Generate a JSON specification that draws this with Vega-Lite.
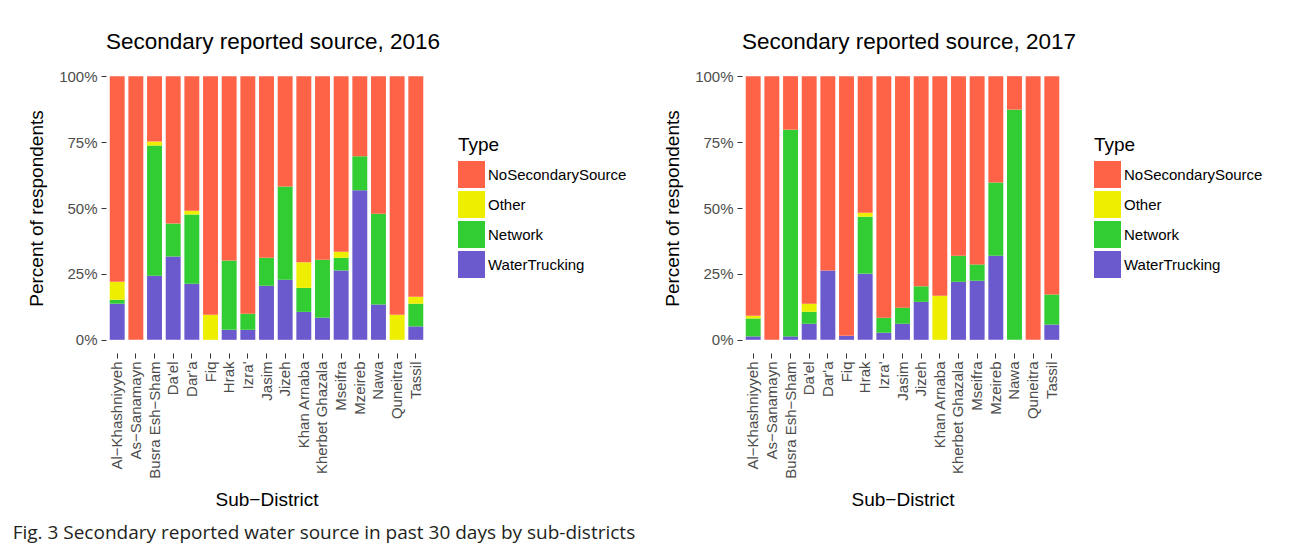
{
  "$schema": "https://vega.github.io/schema/vega-lite/v6.json",
  "padding": {"left": 12, "top": 30, "right": 0, "bottom": 0},
  "background": "white",
  "datasets": {
    "typeOrder": [
      {"Type": "WaterTrucking", "stackRank": 1},
      {"Type": "Network", "stackRank": 2},
      {"Type": "Other", "stackRank": 3},
      {"Type": "NoSecondarySource", "stackRank": 4}
    ],
    "survey": [
      {"year": 2016, "District": "Al−Khashniyyeh", "Type": "WaterTrucking", "Percent": 0.137},
      {"year": 2016, "District": "Al−Khashniyyeh", "Type": "Network", "Percent": 0.015},
      {"year": 2016, "District": "Al−Khashniyyeh", "Type": "Other", "Percent": 0.068},
      {"year": 2016, "District": "Al−Khashniyyeh", "Type": "NoSecondarySource", "Percent": 0.780},
      {"year": 2016, "District": "As−Sanamayn", "Type": "NoSecondarySource", "Percent": 1.0},
      {"year": 2016, "District": "Busra Esh−Sham", "Type": "WaterTrucking", "Percent": 0.243},
      {"year": 2016, "District": "Busra Esh−Sham", "Type": "Network", "Percent": 0.494},
      {"year": 2016, "District": "Busra Esh−Sham", "Type": "Other", "Percent": 0.015},
      {"year": 2016, "District": "Busra Esh−Sham", "Type": "NoSecondarySource", "Percent": 0.248},
      {"year": 2016, "District": "Da'el", "Type": "WaterTrucking", "Percent": 0.316},
      {"year": 2016, "District": "Da'el", "Type": "Network", "Percent": 0.125},
      {"year": 2016, "District": "Da'el", "Type": "NoSecondarySource", "Percent": 0.559},
      {"year": 2016, "District": "Dar'a", "Type": "WaterTrucking", "Percent": 0.213},
      {"year": 2016, "District": "Dar'a", "Type": "Network", "Percent": 0.262},
      {"year": 2016, "District": "Dar'a", "Type": "Other", "Percent": 0.015},
      {"year": 2016, "District": "Dar'a", "Type": "NoSecondarySource", "Percent": 0.510},
      {"year": 2016, "District": "Fiq", "Type": "Other", "Percent": 0.095},
      {"year": 2016, "District": "Fiq", "Type": "NoSecondarySource", "Percent": 0.905},
      {"year": 2016, "District": "Hrak", "Type": "WaterTrucking", "Percent": 0.038},
      {"year": 2016, "District": "Hrak", "Type": "Network", "Percent": 0.263},
      {"year": 2016, "District": "Hrak", "Type": "NoSecondarySource", "Percent": 0.699},
      {"year": 2016, "District": "Izra'", "Type": "WaterTrucking", "Percent": 0.038},
      {"year": 2016, "District": "Izra'", "Type": "Network", "Percent": 0.061},
      {"year": 2016, "District": "Izra'", "Type": "NoSecondarySource", "Percent": 0.901},
      {"year": 2016, "District": "Jasim", "Type": "WaterTrucking", "Percent": 0.205},
      {"year": 2016, "District": "Jasim", "Type": "Network", "Percent": 0.106},
      {"year": 2016, "District": "Jasim", "Type": "NoSecondarySource", "Percent": 0.689},
      {"year": 2016, "District": "Jizeh", "Type": "WaterTrucking", "Percent": 0.228},
      {"year": 2016, "District": "Jizeh", "Type": "Network", "Percent": 0.354},
      {"year": 2016, "District": "Jizeh", "Type": "NoSecondarySource", "Percent": 0.418},
      {"year": 2016, "District": "Khan Arnaba", "Type": "WaterTrucking", "Percent": 0.106},
      {"year": 2016, "District": "Khan Arnaba", "Type": "Network", "Percent": 0.091},
      {"year": 2016, "District": "Khan Arnaba", "Type": "Other", "Percent": 0.097},
      {"year": 2016, "District": "Khan Arnaba", "Type": "NoSecondarySource", "Percent": 0.706},
      {"year": 2016, "District": "Kherbet Ghazala", "Type": "WaterTrucking", "Percent": 0.084},
      {"year": 2016, "District": "Kherbet Ghazala", "Type": "Network", "Percent": 0.220},
      {"year": 2016, "District": "Kherbet Ghazala", "Type": "NoSecondarySource", "Percent": 0.696},
      {"year": 2016, "District": "Mseifra", "Type": "WaterTrucking", "Percent": 0.263},
      {"year": 2016, "District": "Mseifra", "Type": "Network", "Percent": 0.048},
      {"year": 2016, "District": "Mseifra", "Type": "Other", "Percent": 0.023},
      {"year": 2016, "District": "Mseifra", "Type": "NoSecondarySource", "Percent": 0.666},
      {"year": 2016, "District": "Mzeireb", "Type": "WaterTrucking", "Percent": 0.567},
      {"year": 2016, "District": "Mzeireb", "Type": "Network", "Percent": 0.129},
      {"year": 2016, "District": "Mzeireb", "Type": "NoSecondarySource", "Percent": 0.304},
      {"year": 2016, "District": "Nawa", "Type": "WaterTrucking", "Percent": 0.134},
      {"year": 2016, "District": "Nawa", "Type": "Network", "Percent": 0.344},
      {"year": 2016, "District": "Nawa", "Type": "NoSecondarySource", "Percent": 0.522},
      {"year": 2016, "District": "Quneitra", "Type": "Other", "Percent": 0.095},
      {"year": 2016, "District": "Quneitra", "Type": "NoSecondarySource", "Percent": 0.905},
      {"year": 2016, "District": "Tassil", "Type": "WaterTrucking", "Percent": 0.051},
      {"year": 2016, "District": "Tassil", "Type": "Network", "Percent": 0.086},
      {"year": 2016, "District": "Tassil", "Type": "Other", "Percent": 0.026},
      {"year": 2016, "District": "Tassil", "Type": "NoSecondarySource", "Percent": 0.837},
      {"year": 2017, "District": "Al−Khashniyyeh", "Type": "WaterTrucking", "Percent": 0.013},
      {"year": 2017, "District": "Al−Khashniyyeh", "Type": "Network", "Percent": 0.068},
      {"year": 2017, "District": "Al−Khashniyyeh", "Type": "Other", "Percent": 0.010},
      {"year": 2017, "District": "Al−Khashniyyeh", "Type": "NoSecondarySource", "Percent": 0.909},
      {"year": 2017, "District": "As−Sanamayn", "Type": "NoSecondarySource", "Percent": 1.0},
      {"year": 2017, "District": "Busra Esh−Sham", "Type": "WaterTrucking", "Percent": 0.013},
      {"year": 2017, "District": "Busra Esh−Sham", "Type": "Network", "Percent": 0.784},
      {"year": 2017, "District": "Busra Esh−Sham", "Type": "NoSecondarySource", "Percent": 0.203},
      {"year": 2017, "District": "Da'el", "Type": "WaterTrucking", "Percent": 0.061},
      {"year": 2017, "District": "Da'el", "Type": "Network", "Percent": 0.045},
      {"year": 2017, "District": "Da'el", "Type": "Other", "Percent": 0.031},
      {"year": 2017, "District": "Da'el", "Type": "NoSecondarySource", "Percent": 0.863},
      {"year": 2017, "District": "Dar'a", "Type": "WaterTrucking", "Percent": 0.263},
      {"year": 2017, "District": "Dar'a", "Type": "NoSecondarySource", "Percent": 0.737},
      {"year": 2017, "District": "Fiq", "Type": "WaterTrucking", "Percent": 0.015},
      {"year": 2017, "District": "Fiq", "Type": "NoSecondarySource", "Percent": 0.985},
      {"year": 2017, "District": "Hrak", "Type": "WaterTrucking", "Percent": 0.251},
      {"year": 2017, "District": "Hrak", "Type": "Network", "Percent": 0.216},
      {"year": 2017, "District": "Hrak", "Type": "Other", "Percent": 0.015},
      {"year": 2017, "District": "Hrak", "Type": "NoSecondarySource", "Percent": 0.518},
      {"year": 2017, "District": "Izra'", "Type": "WaterTrucking", "Percent": 0.027},
      {"year": 2017, "District": "Izra'", "Type": "Network", "Percent": 0.057},
      {"year": 2017, "District": "Izra'", "Type": "NoSecondarySource", "Percent": 0.916},
      {"year": 2017, "District": "Jasim", "Type": "WaterTrucking", "Percent": 0.061},
      {"year": 2017, "District": "Jasim", "Type": "Network", "Percent": 0.061},
      {"year": 2017, "District": "Jasim", "Type": "NoSecondarySource", "Percent": 0.878},
      {"year": 2017, "District": "Jizeh", "Type": "WaterTrucking", "Percent": 0.144},
      {"year": 2017, "District": "Jizeh", "Type": "Network", "Percent": 0.059},
      {"year": 2017, "District": "Jizeh", "Type": "NoSecondarySource", "Percent": 0.797},
      {"year": 2017, "District": "Khan Arnaba", "Type": "Other", "Percent": 0.167},
      {"year": 2017, "District": "Khan Arnaba", "Type": "NoSecondarySource", "Percent": 0.833},
      {"year": 2017, "District": "Kherbet Ghazala", "Type": "WaterTrucking", "Percent": 0.220},
      {"year": 2017, "District": "Kherbet Ghazala", "Type": "Network", "Percent": 0.099},
      {"year": 2017, "District": "Kherbet Ghazala", "Type": "NoSecondarySource", "Percent": 0.681},
      {"year": 2017, "District": "Mseifra", "Type": "WaterTrucking", "Percent": 0.224},
      {"year": 2017, "District": "Mseifra", "Type": "Network", "Percent": 0.062},
      {"year": 2017, "District": "Mseifra", "Type": "NoSecondarySource", "Percent": 0.714},
      {"year": 2017, "District": "Mzeireb", "Type": "WaterTrucking", "Percent": 0.319},
      {"year": 2017, "District": "Mzeireb", "Type": "Network", "Percent": 0.278},
      {"year": 2017, "District": "Mzeireb", "Type": "NoSecondarySource", "Percent": 0.403},
      {"year": 2017, "District": "Nawa", "Type": "Network", "Percent": 0.873},
      {"year": 2017, "District": "Nawa", "Type": "NoSecondarySource", "Percent": 0.127},
      {"year": 2017, "District": "Quneitra", "Type": "NoSecondarySource", "Percent": 1.0},
      {"year": 2017, "District": "Tassil", "Type": "WaterTrucking", "Percent": 0.058},
      {"year": 2017, "District": "Tassil", "Type": "Network", "Percent": 0.114},
      {"year": 2017, "District": "Tassil", "Type": "NoSecondarySource", "Percent": 0.828}
    ]
  },
  "data": {"name": "survey"},
  "title": {
    "text": "Fig. 3 Secondary reported water source in past 30 days by sub-districts",
    "orient": "bottom",
    "anchor": "start",
    "frame": "bounds",
    "font": "Open Sans",
    "fontSize": 19,
    "fontWeight": "normal",
    "color": "#231f20",
    "dx": -15,
    "offset": 15
  },
  "spacing": 36,
  "hconcat": [
    {
      "width": 321,
      "height": 290,
      "title": {"text": "Secondary reported source, 2016"},
      "transform": [
        {"filter": "datum.year == 2016"},
        {"lookup": "Type", "from": {"data": {"name": "typeOrder"}, "key": "Type", "fields": ["stackRank"]}}
      ],
      "mark": {"type": "bar"},
      "encoding": {
        "x": {"field": "District", "type": "nominal", "sort": null, "title": "Sub−District",
              "scale": {"paddingInner": 0.2, "paddingOuter": 0.2}},
        "y": {"field": "Percent", "type": "quantitative", "stack": "normalize", "title": "Percent of respondents",
              "scale": {"domain": [-0.05, 1.05], "nice": false, "zero": false},
              "axis": {"values": [0, 0.25, 0.5, 0.75, 1], "format": ".0%"}},
        "order": {"field": "stackRank", "type": "quantitative", "sort": "ascending"},
        "color": {"field": "Type", "type": "nominal", "title": "Type",
                  "scale": {"domain": ["NoSecondarySource", "Other", "Network", "WaterTrucking"],
                            "range": ["#FF6347", "#EEEE00", "#32CD32", "#6A5ACD"]},
                  "legend": {"orient": "none", "legendX": 352, "legendY": 73}}
      }
    },
    {
      "width": 321,
      "height": 290,
      "title": {"text": "Secondary reported source, 2017"},
      "transform": [
        {"filter": "datum.year == 2017"},
        {"lookup": "Type", "from": {"data": {"name": "typeOrder"}, "key": "Type", "fields": ["stackRank"]}}
      ],
      "mark": {"type": "bar"},
      "encoding": {
        "x": {"field": "District", "type": "nominal", "sort": null, "title": "Sub−District",
              "scale": {"paddingInner": 0.2, "paddingOuter": 0.2}},
        "y": {"field": "Percent", "type": "quantitative", "stack": "normalize", "title": "Percent of respondents",
              "scale": {"domain": [-0.05, 1.05], "nice": false, "zero": false},
              "axis": {"values": [0, 0.25, 0.5, 0.75, 1], "format": ".0%"}},
        "order": {"field": "stackRank", "type": "quantitative", "sort": "ascending"},
        "color": {"field": "Type", "type": "nominal", "title": "Type",
                  "scale": {"domain": ["NoSecondarySource", "Other", "Network", "WaterTrucking"],
                            "range": ["#FF6347", "#EEEE00", "#32CD32", "#6A5ACD"]},
                  "legend": {"orient": "none", "legendX": 352, "legendY": 73}}
      }
    }
  ],
  "resolve": {"scale": {"color": "independent", "x": "independent", "y": "independent"}, "legend": {"color": "independent"}},
  "config": {
    "font": "Liberation Sans",
    "view": {"stroke": null},
    "title": {"font": "Liberation Sans", "fontSize": 22.5, "fontWeight": "normal", "anchor": "start", "frame": "group", "color": "black", "baseline": "alphabetic", "offset": 10},
    "axis": {
      "domain": false, "grid": false,
      "tickColor": "#333333", "tickSize": 5, "tickWidth": 1,
      "labelFont": "Liberation Sans", "labelFontSize": 15, "labelColor": "#4d4d4d",
      "titleFont": "Liberation Sans", "titleFontSize": 19, "titleFontWeight": "normal", "titleColor": "black"
    },
    "axisX": {"labelAngle": -90, "labelPadding": 3, "titlePadding": 12},
    "axisY": {"labelPadding": 4, "titlePadding": 12},
    "legend": {
      "titleFont": "Liberation Sans", "titleFontSize": 19, "titleFontWeight": "normal", "titleColor": "black", "titlePadding": 6,
      "labelFont": "Liberation Sans", "labelFontSize": 15, "labelColor": "black",
      "symbolType": "square", "symbolSize": 729, "symbolStrokeWidth": 0, "symbolOpacity": 1, "rowPadding": 3, "labelOffset": 3
    }
  }
}
